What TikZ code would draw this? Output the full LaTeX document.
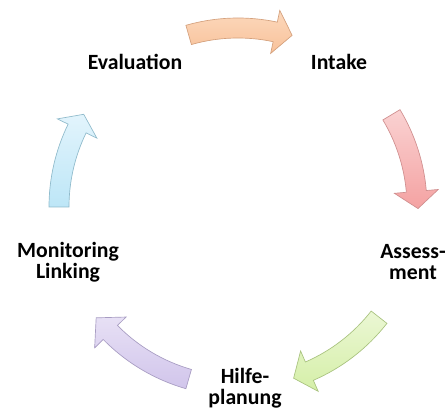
\documentclass[tikz,border=0pt]{standalone}
\usepackage{fontspec}
\setmainfont{Carlito}
\definecolor{peachtop}{HTML}{FCD8BC}
\definecolor{peachbot}{HTML}{F8C29A}
\definecolor{peachline}{HTML}{D4A07C}
\definecolor{rosetop}{HTML}{FAD2D2}
\definecolor{rosebot}{HTML}{F4A2A2}
\definecolor{roseline}{HTML}{CF8E8E}
\definecolor{limetop}{HTML}{EBF7D4}
\definecolor{limebot}{HTML}{D5EFA8}
\definecolor{limeline}{HTML}{A8C27E}
\definecolor{lilactop}{HTML}{E7E0F5}
\definecolor{lilacbot}{HTML}{D1C5EB}
\definecolor{lilacline}{HTML}{A79CC2}
\definecolor{skytop}{HTML}{E2F4FC}
\definecolor{skybot}{HTML}{BDE6F7}
\definecolor{skyline}{HTML}{8FBACB}
\begin{document}
% one unit = one pixel of a 448 x 410 canvas
\begin{tikzpicture}[x=0.75pt,y=0.75pt,
  label/.style={font=\bfseries\fontsize{16.3}{15.6}\selectfont, align=center, inner sep=0pt, text=black},
  arrowbody/.style={line width=0.5pt, line join=miter}]
\useasboundingbox (0,0) rectangle (448,410);

% curved block arrow on the cycle circle (clockwise)
% #1 tail angle, #2 head base angle, #3 tip angle, #4 top colour, #5 bottom colour, #6 outline
\newcommand\cyclearrow[6]{%
  \path[arrowbody, top color=#4, bottom color=#5, draw=#6]
    (#1:189) arc[start angle=#1, end angle=#2, radius=189]
    -- (#2:201) -- (#3:180) -- (#2:157) -- (#2:169)
    arc[start angle=#2, end angle=#1, radius=169] -- cycle;}

\begin{scope}[shift={(238,203)}]
  \cyclearrow{106}{78}{72.5}{peachtop}{peachbot}{peachline}
  \cyclearrow{31}{5}{-0.5}{rosetop}{rosebot}{roseline}
  \cyclearrow{-38}{-66.5}{-72}{limetop}{limebot}{limeline}
  \cyclearrow{-106}{-135.5}{-142}{lilactop}{lilacbot}{lilacline}
  \cyclearrow{180}{154}{149}{skytop}{skybot}{skyline}
\end{scope}

\node[label] (eval)   at (135,348) {Evaluation};
\node[label] (intake) at (339,348) {Intake};
\node[label] (assess) at (413,148) {Assess-\\ment};
\node[label] (hilfe)  at (245,22)  {Hilfe-\\planung};
\node[label] (monit)  at (68,148)  {Monitoring\\Linking};
\end{tikzpicture}
\end{document}
